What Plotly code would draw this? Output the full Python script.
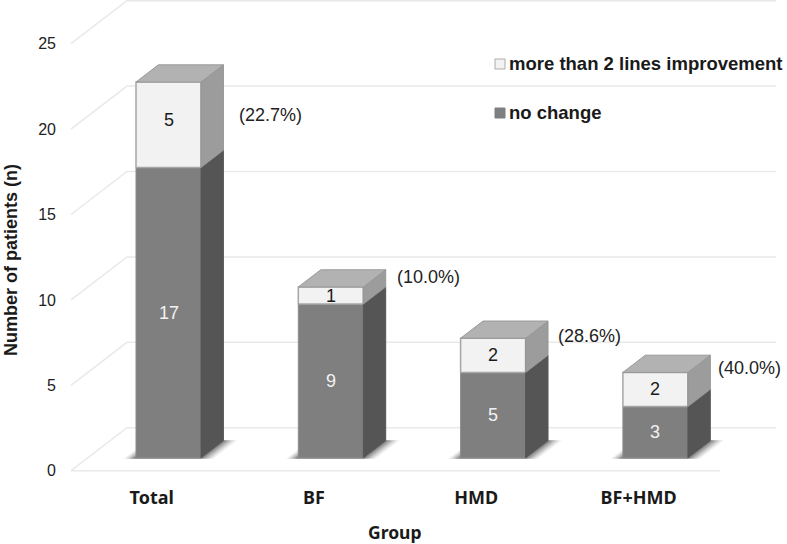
import plotly.graph_objects as go

categories = ["Total", "BF", "HMD", "BF+HMD"]
no_change = [17, 9, 5, 3]
improved = [5, 1, 2, 2]
percent_labels = ["(22.7%)", "(10.0%)", "(28.6%)", "(40.0%)"]
y_ticks = [0, 5, 10, 15, 20, 25]
series_names = ["more than 2 lines improvement", "no change"]

# page layout in pixels
W, H = 787, 544
L, R, T, B = 60, 7, 0, 61
UNIT_X = 162.3          # px per category
UNIT_Y = 17.08          # px per patient
ORIGIN_X = 151.7        # px of first category on the front of the floor
ORIGIN_Y = 470.7        # px of value 0 on the front of the floor

x_range = [(L - ORIGIN_X) / UNIT_X, (W - R - ORIGIN_X) / UNIT_X]
y_range = [(ORIGIN_Y - (H - B)) / UNIT_Y, (ORIGIN_Y - T) / UNIT_Y]

# oblique projection: full floor depth in axis units
DEPTH_X = 56 / UNIT_X
DEPTH_Y = 43 / UNIT_Y
BAR_WIDTH = 65 / UNIT_X
FRONT, BACK = 0.3, 0.7


def project(i, v, d):
    return i + d * DEPTH_X, v + d * DEPTH_Y


def poly(points):
    return "M" + "L".join(f"{x},{y}" for x, y in points) + "Z"


positions = list(range(len(categories)))
bar_x = [project(i, 0, FRONT)[0] for i in positions]
bar_base = project(0, 0, FRONT)[1]
tops = [a + b for a, b in zip(no_change, improved)]

fig = go.Figure()
fig.add_bar(x=bar_x, y=no_change, base=[bar_base] * 4, width=BAR_WIDTH,
            name=series_names[1], marker=dict(color="#7f7f7f", line=dict(color="#8c8c8c", width=1)),
            hoverinfo="skip", showlegend=False)
fig.add_bar(x=bar_x, y=improved, base=[bar_base + v for v in no_change], width=BAR_WIDTH,
            name=series_names[0], marker=dict(color="#f2f2f2", line=dict(color="#a6a6a6", width=1.5)),
            hoverinfo="skip", showlegend=False)


def faces(colour, line, builder):
    xs, ys = [], []
    for i in positions:
        for x, y in builder(i):
            xs.append(x)
            ys.append(y)
        xs.append(None)
        ys.append(None)
    fig.add_scatter(x=xs, y=ys, mode="lines", fill="toself", fillcolor=colour,
                    line=dict(color=line, width=1), hoverinfo="skip", showlegend=False)


def side(i, v0, v1):
    r = i + BAR_WIDTH / 2
    return [project(r, v0, FRONT), project(r, v0, BACK), project(r, v1, BACK), project(r, v1, FRONT),
            project(r, v0, FRONT)]


def top(i):
    l, r, v = i - BAR_WIDTH / 2, i + BAR_WIDTH / 2, tops[i]
    return [project(l, v, FRONT), project(l, v, BACK), project(r, v, BACK), project(r, v, FRONT),
            project(l, v, FRONT)]


faces("#555555", "#555555", lambda i: side(i, 0, no_change[i]))
faces("#9c9c9c", "#949494", lambda i: side(i, no_change[i], tops[i]))
faces("#b2b2b2", "#999999", top)

shapes = []
grid = dict(color="#e9e9e9", width=1.5)
for k in y_ticks:
    fx, fy = project(x_range[0] + 11 / UNIT_X, k, 0)
    bx, by = project(fx, k, 1)
    end_x = (776 - ORIGIN_X) / UNIT_X
    shapes.append(dict(type="path", layer="below", line=grid, xref="x", yref="y",
                       path=f"M{fx},{fy}L{bx},{by}L{end_x},{by}"))
floor_end = (720 - ORIGIN_X) / UNIT_X
shapes.append(dict(type="line", layer="below", line=grid, xref="x", yref="y",
                   x0=x_range[0] + 11 / UNIT_X, y0=0, x1=floor_end, y1=0))

# soft floor shadow behind each bar
for i in positions:
    for grow, alpha in [(1.0, 0.08), (0.8, 0.10), (0.6, 0.14), (0.4, 0.18), (0.2, 0.22)]:
        l = i - BAR_WIDTH / 2 - grow * 11 / UNIT_X
        r = i + BAR_WIDTH / 2 + grow * 13 / UNIT_X
        pts = [project(l, 0, FRONT - 0.02), project(r, 0, FRONT - 0.02),
               project(r, 0, BACK + 0.01), project(l, 0, BACK + 0.01)]
        shapes.append(dict(type="path", layer="below", xref="x", yref="y", path=poly(pts),
                           fillcolor=f"rgba(40,40,40,{alpha})", line=dict(width=0)))


def px_x(p):
    return (p - L) / (W - L - R)


def px_y(p):
    return 1 - (p - T) / (H - T - B)


annotations = []
BODY = "Liberation Sans"
value_shift = [5, 0, 0, 0]
for i in positions:
    annotations.append(dict(x=bar_x[i], y=bar_base + no_change[i] / 2, text=str(no_change[i]),
                            showarrow=False, xref="x", yref="y",
                            font=dict(family=BODY, size=18, color="#f2f2f2")))
    annotations.append(dict(x=bar_x[i], y=bar_base + no_change[i] + improved[i] / 2, text=str(improved[i]),
                            showarrow=False, xref="x", yref="y", yshift=value_shift[i],
                            font=dict(family=BODY, size=18, color="#1a1a1a")))

percent_dx = [47, 43, 41, 39]
percent_dy = [50, 7, 15, 13]
for i in positions:
    x = bar_x[i] + BAR_WIDTH / 2 + (BACK - FRONT) * DEPTH_X
    y = bar_base + tops[i] + (BACK - FRONT) * DEPTH_Y
    annotations.append(dict(x=x, y=y, text=percent_labels[i], showarrow=False, xref="x", yref="y",
                            xshift=percent_dx[i], yshift=-percent_dy[i],
                            font=dict(family=BODY, size=18, color="#222222")))

# legend
legend_fill = ["#f2f2f2", "#7f7f7f"]
legend_line = ["#ababab", "#7f7f7f"]
for name, fill, edge, cy in zip(series_names, legend_fill, legend_line, [64, 113]):
    shapes.append(dict(type="rect", xref="paper", yref="paper", x0=px_x(495), x1=px_x(505),
                       y0=px_y(cy + 5), y1=px_y(cy - 5), fillcolor=fill, line=dict(color=edge, width=1)))
    annotations.append(dict(x=px_x(507), y=px_y(cy), xref="paper", yref="paper",
                            xanchor="left", yanchor="middle",
                            text=f"<b>{name}</b>", showarrow=False,
                            font=dict(family=BODY, size=18.5, color="#1a1a1a")))

annotations.append(dict(x=px_x(395), y=px_y(532), xref="paper", yref="paper", text="<b>Group</b>",
                        xanchor="center", yanchor="middle", showarrow=False,
                        font=dict(family="Noto Sans", size=17.5, color="#1a1a1a")))
annotations.append(dict(x=px_x(11), y=px_y(260), xref="paper", yref="paper", text="<b>Number of patients (n)</b>",
                        xanchor="center", yanchor="middle", textangle=-90, showarrow=False,
                        font=dict(family=BODY, size=18, color="#1a1a1a")))

fig.update_layout(
    width=W, height=H, autosize=False, barmode="overlay",
    margin=dict(l=L, r=R, t=T, b=B, pad=0),
    paper_bgcolor="white", plot_bgcolor="white", showlegend=False,
    shapes=shapes, annotations=annotations,
    xaxis=dict(range=x_range, tickmode="array", tickvals=positions, ticktext=[f"<b>{c}</b>" for c in categories],
               showgrid=False, zeroline=False, showline=False, ticks="", ticklabelstandoff=2,
               tickfont=dict(family="Noto Sans", size=18, color="#1a1a1a")),
    yaxis=dict(range=y_range, tickmode="array", tickvals=y_ticks, showgrid=False, zeroline=False,
               showline=False, ticks="", ticklabelstandoff=3,
               tickfont=dict(family=BODY, size=16, color="#222222")),
)

fig.write_html("out.html", config={"displayModeBar": False},
               post_script="document.body.style.margin='0';document.body.style.overflow='hidden';")
